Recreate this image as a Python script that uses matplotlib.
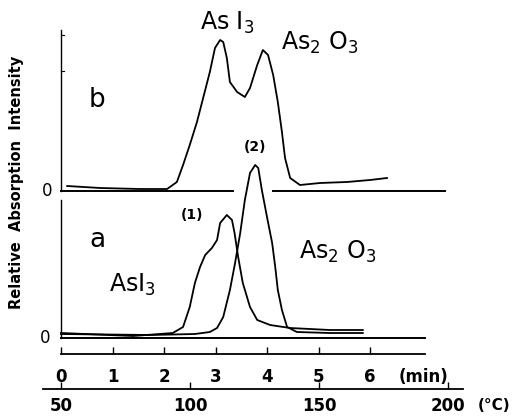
import matplotlib
matplotlib.use("Agg")
import matplotlib.pyplot as plt
import numpy as np

plt.rcParams['font.family'] = ['DejaVu Sans']

# ---- data (time in min, relative intensity in arbitrary units) ----
b_time = [0.12, 0.76, 1.53, 2.06, 2.25, 2.37, 2.50, 2.64, 2.76, 2.89, 2.99, 3.09, 3.15,
          3.22, 3.28, 3.42, 3.57, 3.67, 3.81, 3.92, 4.02, 4.12, 4.21, 4.29, 4.35, 4.45,
          4.64, 5.03, 5.55, 6.00, 6.33]
b_int = [5, 3, 2, 2, 9, 26, 46, 69, 93, 119, 143, 151, 149,
         133, 109, 99, 94, 103, 126, 141, 136, 116, 89, 59, 33, 13,
         6, 8, 9, 11, 13]

a1_time = [0.0, 1.40, 2.17, 2.37, 2.50, 2.60, 2.70, 2.80, 2.93, 3.03, 3.09, 3.22, 3.32,
           3.37, 3.44, 3.53, 3.67, 3.81, 4.06, 4.45, 5.22, 5.86]
a1_int = [5, 2, 5, 11, 31, 55, 71, 83, 90, 98, 115, 123, 118,
          105, 81, 55, 31, 18, 13, 10, 8, 8]

a2_time = [0.0, 1.73, 2.60, 2.89, 3.03, 3.15, 3.28, 3.38, 3.48, 3.57, 3.67, 3.77, 3.83,
           3.90, 4.00, 4.10, 4.16, 4.21, 4.29, 4.39, 4.58, 5.22, 5.86]
a2_int = [4, 3, 4, 6, 10, 21, 48, 75, 105, 138, 165, 173, 170,
          148, 121, 95, 71, 48, 28, 11, 6, 5, 5]

min_ticks = [0, 1, 2, 3, 4, 5, 6]
min_labels = ['0', '1', '2', '3', '4', '5', '6']
temp_ticks = [50, 100, 150, 200]
temp_labels = ['50', '100', '150', '200']

b_offset = 147  # vertical offset of trace b

# ---- figure ----
W, H = 518, 417
fig = plt.figure(figsize=(W / 100, H / 100), dpi=100)
PX = 51.5  # pixels per minute
x0 = 61

def fx(px):
    return px / W

def fy(py):
    return 1 - py / H

ax = fig.add_axes([fx(x0), fy(338), fx(445 - x0), (338 - 30) / H])
ax.set_xlim(0, (445 - x0) / PX)
ax.set_ylim(0, 308)
ax.axis('off')

lw = 1.3
k = 'black'
ax.plot(b_time, np.array(b_int) + b_offset, color=k, lw=lw, clip_on=False)
ax.plot(a1_time, a1_int, color=k, lw=lw, clip_on=False)
ax.plot(a2_time, a2_int, color=k, lw=lw, clip_on=False)

# frame lines
ax.plot([0, (425 - x0) / PX], [0, 0], color=k, lw=1.4, clip_on=False)
ax.plot([0, 0], [0, 138], color=k, lw=1.0, clip_on=False)
ax.plot([0, (233 - x0) / PX], [b_offset, b_offset], color=k, lw=1.4, clip_on=False)
ax.plot([(273 - x0) / PX, (445 - x0) / PX], [b_offset, b_offset], color=k, lw=1.4, clip_on=False)
ax.plot([0, 0], [b_offset, 308], color=k, lw=1.0, clip_on=False)
for yy in [303, 267]:
    ax.plot([0, 0.05], [yy, yy], color=k, lw=0.8, clip_on=False)

# annotations
ax.text(0.70, 238, 'b', fontsize=19, ha='center', va='center')
ax.text(0.70, 98, 'a', fontsize=19, ha='center', va='center')
ax.text(-0.31, 0, '0', fontsize=12, ha='center', va='center')
ax.text(-0.27, b_offset, '0', fontsize=12, ha='center', va='center')
ax.text(3.22, 315, r'As I$_3$', fontsize=17, ha='center', va='center')
ax.text(5.03, 295, r'As$_2$ O$_3$', fontsize=17, ha='center', va='center')
ax.text(1.38, 53, r'AsI$_3$', fontsize=17, ha='center', va='center')
ax.text(5.38, 86, r'As$_2$ O$_3$', fontsize=17, ha='center', va='center')
ax.text(2.54, 123, '(1)', fontsize=10, fontweight='bold', ha='center', va='center')
ax.text(3.77, 191, '(2)', fontsize=10, fontweight='bold', ha='center', va='center')

# time axis
axm = fig.add_axes([fx(x0), fy(354), fx(425 - x0), 0.0001])
axm.set_xlim(0, (425 - x0) / PX)
axm.set_yticks([])
for s in ['top', 'left', 'right']:
    axm.spines[s].set_visible(False)
axm.spines['bottom'].set_linewidth(1.3)
axm.set_xticks(min_ticks)
axm.set_xticklabels(min_labels, fontsize=12, fontweight='bold')
axm.tick_params(axis='x', direction='in', length=5, width=1.0, pad=10)
fig.text(fx(424), fy(377), '(min)', fontsize=12, fontweight='bold', ha='center', va='center')

# temperature axis
TPX = 129 / 50
axt = fig.add_axes([fx(43), fy(389), fx(463 - 43), 0.0001])
axt.set_xlim(50 - (x0 - 43) / TPX, 50 + (463 - x0) / TPX)
axt.set_yticks([])
for s in ['top', 'left', 'right']:
    axt.spines[s].set_visible(False)
axt.spines['bottom'].set_linewidth(1.3)
axt.set_xticks(temp_ticks)
axt.set_xticklabels(temp_labels, fontsize=12, fontweight='bold')
axt.tick_params(axis='x', direction='in', length=5, width=1.0, pad=6)
fig.text(fx(494), fy(406), '(°C)', fontsize=11, fontweight='bold', ha='center', va='center')

fig.text(fx(17), fy(182), 'Relative  Absorption  Intensity', rotation=90,
         fontsize=10.5, fontweight='bold', ha='center', va='center')

fig.savefig('out.png', dpi=100)
